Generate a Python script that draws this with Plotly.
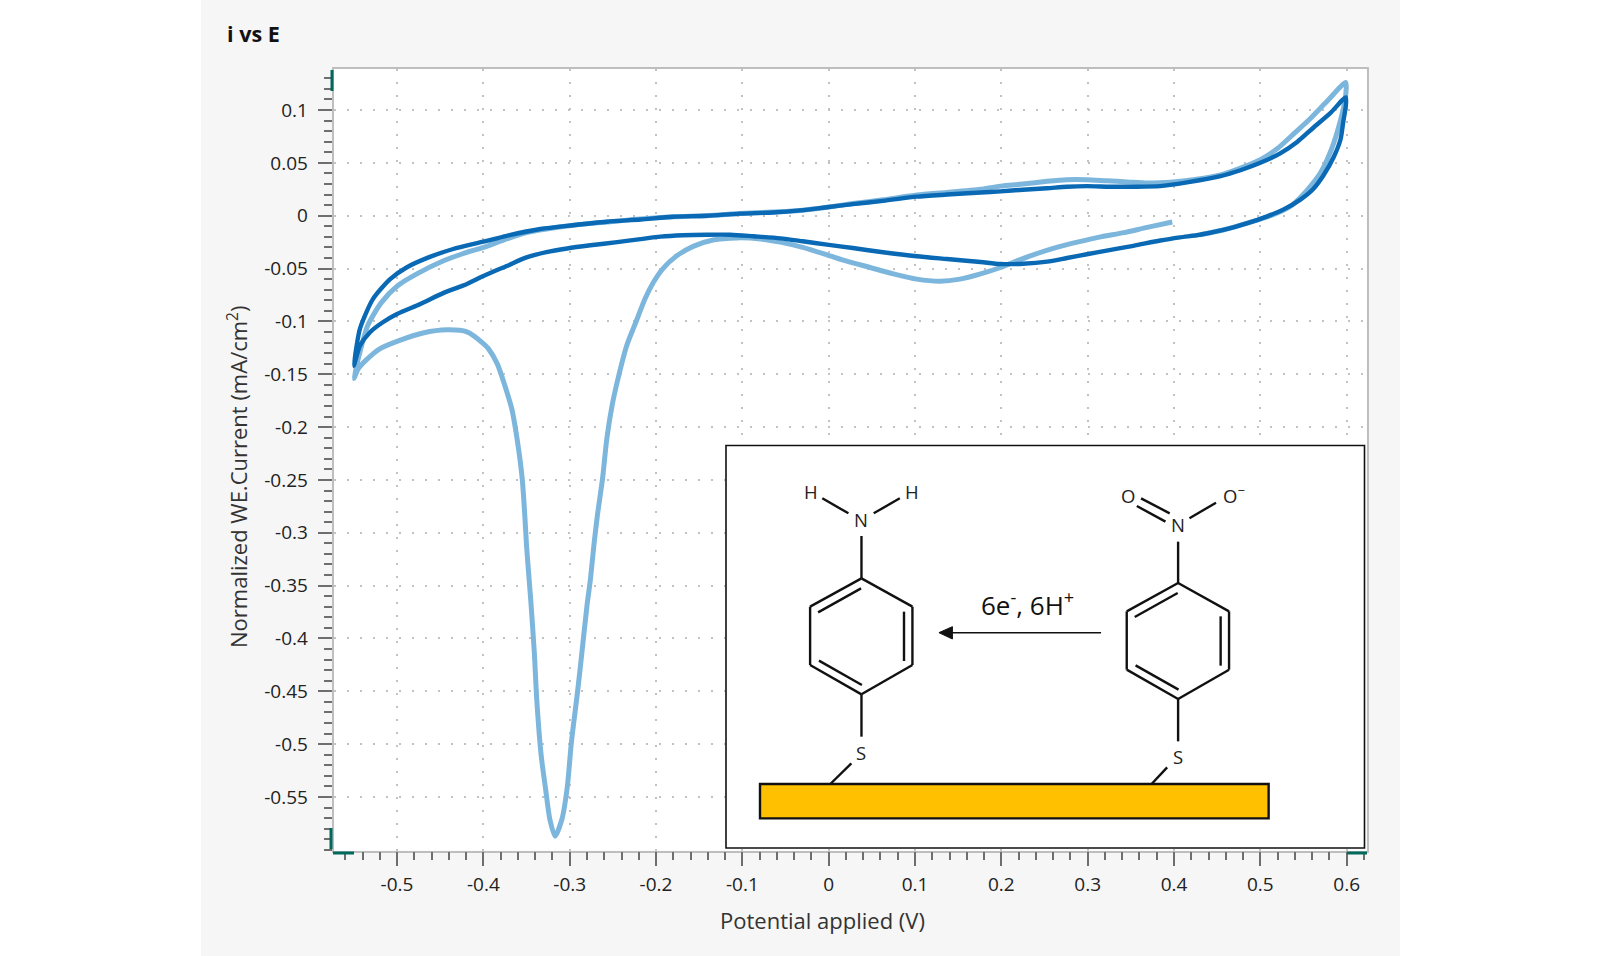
import plotly.graph_objects as go

# ---------- data ----------
first_cycle_E = [0.398,0.369,0.342,0.315,0.288,0.264,0.237,0.214,0.199,0.176,0.152,0.129,0.102,0.075,0.048,0.021,-0.002,-0.030,-0.056,-0.079,-0.106,-0.134,-0.157,-0.176,-0.192,-0.203,-0.213,-0.222,-0.234,-0.244,-0.251,-0.257,-0.262,-0.268,-0.272,-0.276,-0.280,-0.287,-0.291,-0.298,-0.303,-0.309,-0.317,-0.323,-0.328,-0.333,-0.338,-0.341,-0.345,-0.347,-0.350,-0.352,-0.355,-0.361,-0.367,-0.375,-0.384,-0.394,-0.400,-0.419,-0.442,-0.470,-0.497,-0.520,-0.535,-0.545,-0.550,-0.543,-0.534,-0.518,-0.499,-0.477,-0.450,-0.424,-0.400,-0.373,-0.350,-0.296,-0.257,-0.218,-0.180,-0.141,-0.103,-0.065,-0.033,-0.002,0.028,0.063,0.102,0.137,0.176,0.199,0.225,0.253,0.276,0.299,0.322,0.346,0.369,0.399,0.422,0.454,0.477,0.500,0.519,0.538,0.558,0.577,0.599,0.599,0.596,0.589,0.581,0.570,0.554,0.535,0.512,0.485,0.457,0.430]
first_cycle_I = [-0.006,-0.011,-0.016,-0.020,-0.025,-0.030,-0.037,-0.044,-0.049,-0.055,-0.060,-0.062,-0.060,-0.055,-0.049,-0.043,-0.037,-0.030,-0.025,-0.022,-0.021,-0.023,-0.029,-0.038,-0.050,-0.063,-0.079,-0.098,-0.123,-0.154,-0.180,-0.211,-0.249,-0.284,-0.312,-0.344,-0.369,-0.422,-0.451,-0.498,-0.542,-0.571,-0.587,-0.571,-0.542,-0.511,-0.460,-0.413,-0.365,-0.344,-0.312,-0.284,-0.249,-0.211,-0.183,-0.161,-0.140,-0.126,-0.121,-0.110,-0.108,-0.111,-0.118,-0.126,-0.136,-0.145,-0.154,-0.129,-0.104,-0.082,-0.066,-0.055,-0.044,-0.036,-0.030,-0.022,-0.016,-0.009,-0.006,-0.003,-0.001,0.000,0.002,0.0035,0.005,0.008,0.0115,0.015,0.0196,0.022,0.025,0.028,0.030,0.0325,0.034,0.034,0.033,0.032,0.031,0.032,0.034,0.0385,0.045,0.053,0.063,0.077,0.092,0.108,0.126,0.115,0.101,0.079,0.060,0.041,0.024,0.009,0.000,-0.007,-0.0135,-0.018]

second_cycle_E = [0.599,0.599,0.596,0.593,0.585,0.573,0.561,0.546,0.527,0.508,0.485,0.457,0.430,0.407,0.384,0.353,0.322,0.299,0.276,0.253,0.225,0.199,0.176,0.137,0.102,0.063,0.028,-0.002,-0.030,-0.056,-0.087,-0.114,-0.141,-0.169,-0.195,-0.218,-0.245,-0.276,-0.303,-0.327,-0.350,-0.373,-0.400,-0.419,-0.446,-0.473,-0.500,-0.516,-0.531,-0.543,-0.550,-0.547,-0.543,-0.528,-0.508,-0.489,-0.462,-0.435,-0.400,-0.373,-0.334,-0.296,-0.257,-0.218,-0.180,-0.141,-0.103,-0.065,-0.033,-0.002,0.028,0.063,0.102,0.137,0.176,0.199,0.225,0.253,0.276,0.299,0.326,0.353,0.384,0.415,0.454,0.477,0.500,0.523,0.543,0.561,0.581,0.599]
second_cycle_I = [0.112,0.104,0.0886,0.0726,0.0555,0.038,0.025,0.015,0.006,-0.0006,-0.007,-0.0135,-0.018,-0.0205,-0.0235,-0.0285,-0.033,-0.0365,-0.040,-0.0435,-0.0455,-0.0457,-0.0438,-0.041,-0.0384,-0.0346,-0.0306,-0.0274,-0.0242,-0.0214,-0.0195,-0.018,-0.018,-0.0185,-0.0198,-0.0222,-0.025,-0.028,-0.031,-0.0345,-0.0395,-0.0476,-0.057,-0.0646,-0.073,-0.0835,-0.093,-0.1006,-0.110,-0.123,-0.142,-0.124,-0.107,-0.079,-0.060,-0.049,-0.039,-0.0315,-0.0246,-0.019,-0.0126,-0.009,-0.0057,-0.0036,-0.001,0.000,0.002,0.003,0.005,0.008,0.011,0.014,0.018,0.020,0.022,0.023,0.0246,0.026,0.0274,0.028,0.0274,0.0274,0.028,0.0316,0.0375,0.043,0.050,0.059,0.070,0.083,0.097,0.112]

x_tick_vals = [-0.5,-0.4,-0.3,-0.2,-0.1,0,0.1,0.2,0.3,0.4,0.5,0.6]
x_tick_text = ["-0.5","-0.4","-0.3","-0.2","-0.1","0","0.1","0.2","0.3","0.4","0.5","0.6"]
y_tick_vals = [0.1,0.05,0,-0.05,-0.1,-0.15,-0.2,-0.25,-0.3,-0.35,-0.4,-0.45,-0.5,-0.55]
y_tick_text = ["0.1","0.05","0","-0.05","-0.1","-0.15","-0.2","-0.25","-0.3","-0.35","-0.4","-0.45","-0.5","-0.55"]

# ---------- styling ----------
W, H = 1600, 956
LIGHT = "#7DB6DC"
DARK = "#0A69B4"
PANEL = "#F6F6F6"
TEAL = "#00695C"
TICK = "#6E6E6E"
TXT = "#222222"
FONT = "Open Sans"

def fx(p): return p / W
def fy(p): return 1 - p / H

fig = go.Figure()
fig.add_trace(go.Scatter(x=first_cycle_E, y=first_cycle_I, mode="lines", name="Cycle 1",
                         line=dict(color=LIGHT, width=5, shape="spline", smoothing=0.7), showlegend=False))
fig.add_trace(go.Scatter(x=second_cycle_E, y=second_cycle_I, mode="lines", name="Cycle 2",
                         line=dict(color=DARK, width=4.4, shape="spline", smoothing=0.7), showlegend=False))

shapes = []
def rect(x0, y0, x1, y1, fill, line=None, lw=0, layer="above"):
    shapes.append(dict(type="rect", xref="paper", yref="paper", x0=fx(x0), x1=fx(x1),
                       y0=fy(y1), y1=fy(y0), fillcolor=fill, layer=layer,
                       line=dict(color=line or fill, width=lw)))
def seg(x0, y0, x1, y1, color="#111111", lw=2):
    shapes.append(dict(type="line", xref="paper", yref="paper", x0=fx(x0), x1=fx(x1),
                       y0=fy(y0), y1=fy(y1), layer="above", line=dict(color=color, width=lw)))

# white page outside the grey panel
rect(0, 0, 201, H, "#FFFFFF", layer="below")
rect(1400, 0, W, H, "#FFFFFF", layer="below")

# teal corner marks
seg(332, 70, 332, 91, TEAL, 3)
seg(331, 828, 331, 849, TEAL, 3)
seg(333, 853, 354, 853, TEAL, 3)
seg(1347, 853, 1367, 853, TEAL, 3)

# inset box
rect(726, 445.5, 1364.5, 848, "#FFFFFF", "#111111", 1.6)

def ix(z): return 720 + z / 2.375
def iy(z): return 430 + z / 3
def iseg(a, b, c, d, lw=2.4): seg(ix(a), iy(b), ix(c), iy(d), "#111111", lw)

def benzene(dx, dy):
    ring = [(336,445),(457,530),(457,705),(336,793),(214,705),(214,530),(336,445)]
    for (a,b),(c,d) in zip(ring, ring[1:]):
        iseg(a+dx, b+dy, c+dx, d+dy)
    iseg(233+dx, 547+dy, 335+dx, 475+dy)
    iseg(437+dx, 545+dy, 437+dx, 693+dy)
    iseg(235+dx, 692+dy, 337+dx, 765+dy)
    iseg(336+dx, 793+dy, 336+dx, 920+dy)

benzene(0, 0)
benzene(752, 14)
iseg(336, 318, 336, 445)
iseg(243, 205, 305, 250)
iseg(365, 250, 427, 205)
iseg(312, 1000, 262, 1062)
iseg(1088, 335, 1088, 460)
iseg(1000, 205, 1068, 250)
iseg(990, 228, 1058, 275)
iseg(1115, 265, 1178, 218)
iseg(1062, 1012, 1025, 1062)

rect(ix(95), iy(1062), ix(1303), iy(1165), "#FFC000", "#111111", 2.4)

# reaction arrow
iseg(905, 608, 545, 608, 1.5)
shapes.append(dict(type="path", xref="paper", yref="paper", layer="above",
                   fillcolor="#111111", line=dict(color="#111111", width=1),
                   path=f"M {fx(ix(520))} {fy(iy(608))} L {fx(ix(552))} {fy(iy(590))} "
                        f"L {fx(ix(552))} {fy(iy(627))} Z"))

ann = []
def label(x, y, text, size, color=TXT, angle=0, family=FONT, anchor="center"):
    ann.append(dict(xref="paper", yref="paper", x=fx(x), y=fy(y), text=text, showarrow=False,
                    xanchor=anchor, yanchor="middle", textangle=angle,
                    font=dict(family=family, size=size, color=color)))

label(225, 34, "<b>i vs E</b>", 21.5, "#111111", anchor="left")
label(822, 920, "Potential applied (V)", 22, "#333333")
label(237, 477, "Normalized WE.Current (mA/cm<sup>2</sup>)", 22, "#333333", angle=-90)

for zx, zy, t in [(215,185,"H"),(455,185,"H"),(336,268,"N"),(336,968,"S"),
                  (968,197,"O"),(1220,193,"O<sup>−</sup>"),(1088,283,"N"),(1088,980,"S")]:
    label(ix(zx), iy(zy), t, 18.5)
label(ix(730), iy(521), "6e<sup>-</sup>, 6H<sup>+</sup>", 26, "#111111")

grid = dict(showgrid=True, gridcolor="#C2C2C2", griddash="2px,11px", gridwidth=1.7, zeroline=False)
tickfont = dict(family=FONT, size=19, color=TXT)

fig.update_layout(
    width=W, height=H, autosize=False, showlegend=False,
    margin=dict(l=0, r=0, t=0, b=0),
    paper_bgcolor=PANEL, plot_bgcolor="#FFFFFF",
    shapes=shapes, annotations=ann,
    xaxis=dict(domain=[fx(333.5), fx(1366.7)], range=[-0.5736, 0.6232],
               tickmode="array", tickvals=x_tick_vals, ticktext=x_tick_text,
               ticks="outside", ticklen=14, tickwidth=1.5, tickcolor=TICK, tickfont=tickfont,
               ticklabelstandoff=2,
               showline=True, mirror=True, linecolor="#BEBEBE", linewidth=1.5,
               minor=dict(tickmode="linear", tick0=0, dtick=0.02, ticks="outside", ticklen=8,
                          tickwidth=1.5, tickcolor=TICK, showgrid=False),
               **grid),
    yaxis=dict(domain=[fy(850.7), fy(69)], range=[-0.6008, 0.1388],
               tickmode="array", tickvals=y_tick_vals, ticktext=y_tick_text,
               ticks="outside", ticklen=14, tickwidth=1.5, tickcolor=TICK, tickfont=tickfont,
               ticklabelstandoff=6,
               showline=True, mirror=True, linecolor="#BEBEBE", linewidth=1.5,
               minor=dict(tickmode="linear", tick0=0, dtick=0.01, ticks="outside", ticklen=8,
                          tickwidth=1.5, tickcolor=TICK, showgrid=False),
               **grid),
)

fig.write_html("out.html", post_script="document.body.style.margin='0';",
               config=dict(displayModeBar=False))
